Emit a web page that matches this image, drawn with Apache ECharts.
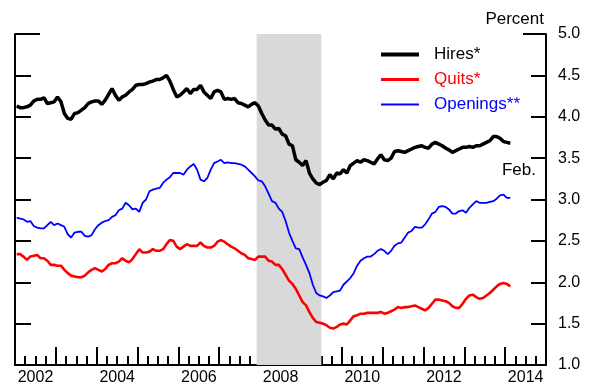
<!DOCTYPE html>
<html>
<head>
<meta charset="utf-8">
<script src="https://cdn.jsdelivr.net/npm/echarts@6/dist/echarts.min.js"></script>
<style>
  html, body { margin: 0; padding: 0; background: #fff; }
  #chart { width: 598px; height: 388px; }
</style>
</head>
<body>
<div id="chart"></div>
<script>
// Monthly rates, percent, January 2002 through February 2014
const startYear = 2002;
const startMonth = 0; // January

const hires = [
  4.13, 4.11, 4.11, 4.12, 4.14, 4.19, 4.21, 4.21, 4.23, 4.16,
  4.17, 4.18, 4.24, 4.18, 4.04, 3.98, 3.97, 4.04, 4.05, 4.08,
  4.11, 4.16, 4.18, 4.19, 4.19, 4.15, 4.20, 4.27, 4.34, 4.26,
  4.20, 4.24, 4.26, 4.30, 4.33, 4.38, 4.39, 4.39,
  4.40, 4.42, 4.43, 4.45, 4.45, 4.47, 4.50, 4.43, 4.33, 4.24,
  4.26, 4.30, 4.34, 4.28, 4.33, 4.33, 4.38, 4.30, 4.26, 4.22,
  4.30, 4.32, 4.30, 4.21, 4.22, 4.21, 4.22, 4.17, 4.16, 4.14,
  4.12, 4.15, 4.17, 4.13, 4.04, 3.96, 3.90, 3.90, 3.85, 3.86,
  3.79, 3.77, 3.67, 3.65, 3.48, 3.45, 3.41, 3.47, 3.32, 3.25,
  3.20, 3.18, 3.21, 3.23, 3.30, 3.25, 3.32, 3.31, 3.36, 3.32,
  3.41, 3.44, 3.47, 3.45, 3.48, 3.47, 3.45, 3.43, 3.49, 3.54,
  3.48, 3.47, 3.50, 3.58, 3.59, 3.58, 3.57, 3.59, 3.61, 3.63,
  3.64, 3.65, 3.63, 3.62, 3.67, 3.69, 3.67, 3.65, 3.62, 3.60,
  3.57, 3.59, 3.61, 3.63, 3.63, 3.64, 3.63, 3.65, 3.65, 3.67,
  3.69, 3.71, 3.76, 3.76, 3.74, 3.70, 3.69, 3.68
];

const quits = [
  2.34, 2.34, 2.31, 2.27, 2.31, 2.32, 2.33, 2.29, 2.29, 2.26,
  2.21, 2.21, 2.20, 2.20, 2.15, 2.11, 2.08, 2.07, 2.06, 2.06,
  2.08, 2.12, 2.15, 2.17, 2.15, 2.13, 2.16, 2.21, 2.23, 2.23,
  2.25, 2.29, 2.26, 2.24, 2.28, 2.34, 2.40, 2.36, 2.36, 2.37,
  2.40, 2.38, 2.38, 2.40, 2.46, 2.51, 2.50, 2.43, 2.40, 2.43,
  2.46, 2.44, 2.44, 2.44, 2.48, 2.44, 2.42, 2.42, 2.44, 2.49,
  2.51, 2.49, 2.46, 2.43, 2.41, 2.38, 2.35, 2.33, 2.29, 2.28,
  2.27, 2.31, 2.31, 2.31, 2.26, 2.25, 2.21, 2.21, 2.16, 2.09,
  2.02, 1.98, 1.92, 1.84, 1.76, 1.72, 1.64, 1.57, 1.52, 1.51,
  1.50, 1.48, 1.45, 1.44, 1.46, 1.49, 1.50, 1.49, 1.54, 1.59,
  1.60, 1.62, 1.62, 1.63, 1.63, 1.63, 1.63, 1.64, 1.62, 1.63,
  1.65, 1.67, 1.70, 1.69, 1.70, 1.70, 1.71, 1.72, 1.70, 1.68,
  1.66, 1.69, 1.74, 1.79, 1.79, 1.78, 1.77, 1.75, 1.71, 1.69,
  1.69, 1.74, 1.80, 1.84, 1.85, 1.82, 1.80, 1.81, 1.84, 1.87,
  1.91, 1.95, 1.98, 1.99, 1.98, 1.95
];

const openings = [
  2.78, 2.77, 2.76, 2.73, 2.74, 2.68, 2.66, 2.65, 2.65, 2.69,
  2.73, 2.69, 2.71, 2.69, 2.67, 2.58, 2.54, 2.60, 2.61, 2.61,
  2.56, 2.55, 2.57, 2.64, 2.69, 2.72, 2.74, 2.75, 2.79, 2.81,
  2.87, 2.89, 2.96, 2.93, 2.88, 2.89, 2.85, 2.96, 3.00, 3.10,
  3.12, 3.13, 3.14, 3.20, 3.24, 3.27, 3.32, 3.32, 3.32, 3.30,
  3.36, 3.40, 3.43, 3.36, 3.24, 3.22, 3.26, 3.36, 3.44, 3.46,
  3.48, 3.44, 3.45, 3.44, 3.44, 3.43, 3.42, 3.40, 3.36, 3.32,
  3.28, 3.23, 3.22, 3.16, 3.07, 2.98, 2.96, 2.89, 2.85, 2.74,
  2.60, 2.50, 2.41, 2.40, 2.30, 2.21, 2.11, 1.97, 1.87, 1.84,
  1.83, 1.81, 1.84, 1.88, 1.89, 1.90, 1.97, 2.01, 2.05, 2.11,
  2.20, 2.26, 2.29, 2.31, 2.31, 2.34, 2.38, 2.40, 2.38, 2.34,
  2.38, 2.44, 2.47, 2.48, 2.54, 2.60, 2.62, 2.67, 2.66, 2.66,
  2.70, 2.76, 2.83, 2.85, 2.91, 2.92, 2.91, 2.88, 2.83, 2.83,
  2.86, 2.87, 2.84, 2.90, 2.94, 2.98, 2.96, 2.96, 2.96, 2.97,
  2.98, 3.01, 3.05, 3.06, 3.02, 3.02
];

// Recession: December 2007 through June 2009
const recessionStart = 2007 + 11 / 12;
const recessionEnd = 2009 + 6 / 12;

const seriesNames = ['Hires*', 'Quits*', 'Openings**'];
const seriesColors = ['#000000', '#ff0000', '#0000ff'];
const lineWidths = [3.5, 2.6, 1.8];
const yTicks = [1.0, 1.5, 2.0, 2.5, 3.0, 3.5, 4.0, 4.5, 5.0];
const xYears = [2002, 2004, 2006, 2008, 2010, 2012, 2014];

// Each observation is plotted at mid-month on a decimal-year scale
function toPoints(values) {
  return values.map((v, i) => [startYear + (startMonth + i + 0.5) / 12, v]);
}

// Flat bar used as the legend key, as thick as the series line
function keyIcon(h) {
  return 'path://M0,0 L38,0 L38,' + h + ' L0,' + h + ' Z';
}

const FONT = 'Liberation Sans, Arial, sans-serif';
const chart = echarts.init(document.getElementById('chart'), null, { renderer: 'canvas' });

const axisLine = { show: true, lineStyle: { color: '#000', width: 2 } };

chart.setOption({
  animation: false,
  backgroundColor: '#fff',
  grid: { left: 15, right: 52, top: 34, bottom: 23, containLabel: false },
  legend: {
    orient: 'vertical',
    left: 376,
    top: 41,
    itemWidth: 38,
    itemHeight: 14,
    itemGap: 8,
    selectedMode: false,
    itemStyle: { borderWidth: 0 },
    data: seriesNames.map((n, i) => ({
      name: n,
      icon: keyIcon([4, 3, 2][i]),
      itemStyle: { color: seriesColors[i], borderWidth: 0 },
      textStyle: { color: seriesColors[i] }
    })),
    textStyle: { fontFamily: FONT, fontSize: 17, padding: [0, 0, 0, 10] }
  },
  xAxis: {
    type: 'value',
    min: 2002,
    max: 2015,
    interval: 1,
    axisLine: axisLine,
    splitLine: { show: false },
    axisTick: { show: true, inside: true, length: 18, lineStyle: { color: '#000', width: 2 } },
    minorTick: { show: true, splitNumber: 4, length: 9, lineStyle: { color: '#000', width: 2 } },
    minorSplitLine: { show: false },
    axisLabel: {
      show: true,
      showMaxLabel: false,
      color: '#000',
      fontFamily: FONT,
      fontSize: 16,
      margin: 5,
      padding: [0, 0, 0, 41],
      formatter: v => (xYears.indexOf(v) >= 0 ? String(v) : '')
    }
  },
  yAxis: [
    {
      type: 'value', position: 'left', min: 1, max: 5, interval: 0.5,
      axisLine: axisLine,
      axisTick: { show: true, inside: true, length: 16, lineStyle: { color: '#000', width: 2 } },
      axisLabel: { show: false },
      splitLine: { show: false }
    },
    {
      type: 'value', position: 'right', min: 1, max: 5, interval: 0.5,
      axisLine: axisLine,
      axisTick: { show: true, inside: true, length: 15, lineStyle: { color: '#000', width: 2 } },
      axisLabel: {
        show: true, color: '#000', fontFamily: FONT, fontSize: 16, margin: 12,
        formatter: v => (yTicks.indexOf(v) >= 0 ? v.toFixed(1) : '')
      },
      splitLine: { show: false }
    },
    // longer tick marks at the top of both vertical axes
    {
      type: 'value', position: 'left', min: 1, max: 5, interval: 4,
      axisLine: { show: false },
      axisTick: { show: true, inside: true, length: 25, lineStyle: { color: '#000', width: 2 } },
      axisLabel: { show: false }, splitLine: { show: false }
    },
    {
      type: 'value', position: 'right', min: 1, max: 5, interval: 4,
      axisLine: { show: false },
      axisTick: { show: true, inside: true, length: 23, lineStyle: { color: '#000', width: 2 } },
      axisLabel: { show: false }, splitLine: { show: false }
    }
  ],
  graphic: [
    {
      type: 'text', right: 54, top: 11,
      style: { text: 'Percent', font: '17px ' + FONT, fill: '#000' }
    },
    {
      type: 'text', right: 62, top: 162,
      style: { text: 'Feb.', font: '17px ' + FONT, fill: '#000' }
    }
  ],
  series: [
    {
      name: 'Hires*', type: 'line', yAxisIndex: 1, data: toPoints(hires),
      showSymbol: false, symbol: 'none', z: 5,
      lineStyle: { color: seriesColors[0], width: lineWidths[0] },
      itemStyle: { color: seriesColors[0] },
      markArea: {
        silent: true,
        itemStyle: { color: '#d9d9d9' },
        data: [[{ xAxis: recessionStart }, { xAxis: recessionEnd }]]
      }
    },
    {
      name: 'Quits*', type: 'line', yAxisIndex: 1, data: toPoints(quits),
      showSymbol: false, symbol: 'none', z: 4,
      lineStyle: { color: seriesColors[1], width: lineWidths[1] },
      itemStyle: { color: seriesColors[1] }
    },
    {
      name: 'Openings**', type: 'line', yAxisIndex: 1, data: toPoints(openings),
      showSymbol: false, symbol: 'none', z: 3,
      lineStyle: { color: seriesColors[2], width: lineWidths[2] },
      itemStyle: { color: seriesColors[2] }
    }
  ]
});
</script>
</body>
</html>
